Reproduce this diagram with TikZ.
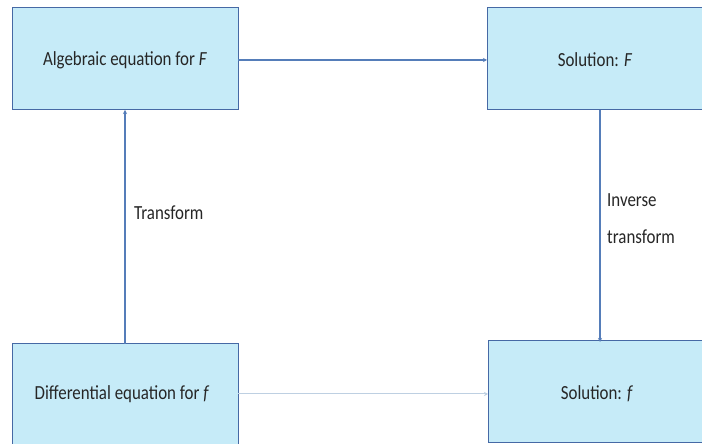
\documentclass[tikz,border=0pt]{standalone}
\usepackage{fontspec}
\setmainfont{Carlito}
\usetikzlibrary{arrows.meta}
\definecolor{boxfill}{RGB}{198,235,248}
\definecolor{boxline}{RGB}{70,105,165}
\definecolor{arrowblue}{RGB}{85,125,185}
\definecolor{fadeblue}{RGB}{190,208,226}
\newcommand{\sqz}[1]{\scalebox{0.845}[1]{#1}}
\tikzset{
  box/.style={draw=boxline, line width=1pt, fill=boxfill, anchor=south west, inner sep=0pt},
  conn/.style={draw=arrowblue, line width=1.3pt, -{Stealth[length=4pt,width=4pt]}},
  thick conn/.style={draw=arrowblue, line width=2pt, -{Stealth[length=4pt,width=4pt]}},
  faint/.style={draw=fadeblue, line width=1pt, -{Stealth[length=4pt,width=4pt,fill=arrowblue]}},
  lab/.style={font=\fontsize{20}{24}\selectfont, text=black!85, align=left, inner sep=0pt}
}
\begin{document}
\begin{tikzpicture}[x=1pt,y=1pt]
\useasboundingbox (0,0) rectangle (702,444);
\path[fill=white] (0,0) rectangle (702,444);
% boxes
\node[box, minimum width=226pt, minimum height=102pt] (alg) at (12,334) {};
\node[box, minimum width=220pt, minimum height=102pt] (solF) at (487,334) {};
\node[box, minimum width=226pt, minimum height=102pt] (diff) at (12,-2) {};
\node[box, minimum width=220pt, minimum height=102pt] (solf) at (488,1) {};
% texts
\node[lab] (tA) at (125,384) {\sqz{Algebraic equation for \textit{F}}};
\node[lab] (tB) at (595,384) {\sqz{Solution: \textit{F}}};
\node[lab] (tC) at (122,50) {\sqz{Differential equation for \textit{f}}};
\node[lab] (tD) at (597,50) {\sqz{Solution: \textit{f}}};
% connectors
\coordinate (a1) at (238,384);
\coordinate (a2) at (487,384);
\draw[thick conn] (a1) -- (a2);
\coordinate (b1) at (125,100);
\coordinate (b2) at (125,334);
\draw[conn] (b1) -- (b2);
\coordinate (c1) at (600,334);
\coordinate (c2) at (600,102);
\draw[conn] (c1) -- (c2);
\coordinate (d1) at (238,50);
\coordinate (d2) at (488,50);
\draw[faint] (d1) -- (d2);
% labels
\node[lab, anchor=west] (lt) at (134,231) {\sqz{Transform}};
\node[lab, anchor=west] (li1) at (607,244) {\sqz{Inverse}};
\node[lab, anchor=west] (li2) at (607,207) {\sqz{transform}};
\end{tikzpicture}
\end{document}
